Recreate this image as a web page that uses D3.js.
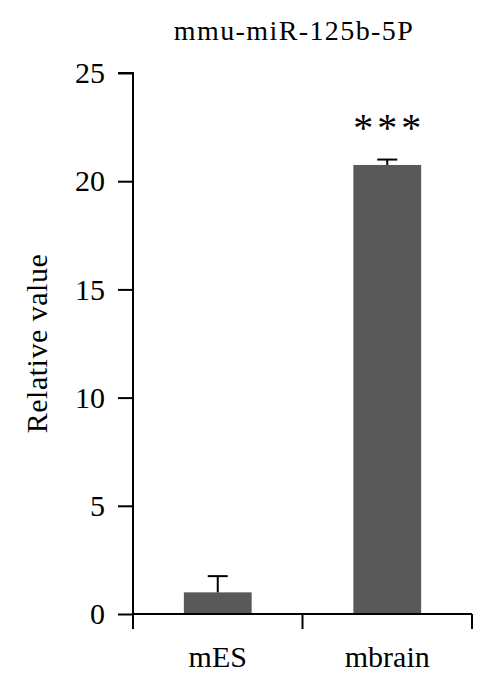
<!DOCTYPE html>
<html><head><meta charset="utf-8">
<script src="https://cdn.jsdelivr.net/npm/d3@7"></script>
<style>body{margin:0;background:#fff}svg{display:block}text{font-family:"Liberation Serif","DejaVu Serif",serif;fill:#000}</style>
</head><body>
<script>
const categories = ["mES", "mbrain"];
const values = [1.0, 20.75];
const errors = [0.75, 0.25];
const significance = ["", "***"];
const yTicks = [0, 5, 10, 15, 20, 25];
const title = "mmu-miR-125b-5P";
const yLabel = "Relative value";

const W = 494, H = 696;
const m = {left: 133, right: 22, top: 73, bottom: 82};
const svg = d3.select("body").append("svg").attr("width", W).attr("height", H);
const x = d3.scaleBand().domain(categories).range([m.left, W - m.right]).padding(0);
const y = d3.scaleLinear().domain([0, 25]).range([H - m.bottom, m.top]);
const bw = x.bandwidth() * 0.4;

const g = svg.append("g");
g.selectAll("rect.bar").data(categories).join("rect")
  .attr("x", d => x(d) + x.bandwidth()/2 - bw/2)
  .attr("y", (d,i) => y(values[i]))
  .attr("width", bw)
  .attr("height", (d,i) => y(0) - y(values[i]))
  .attr("fill", "#595959");

categories.forEach((c,i) => {
  const cx = x(c) + x.bandwidth()/2;
  const top = y(values[i]+errors[i]);
  g.append("line").attr("x1", cx).attr("x2", cx).attr("y1", y(values[i])).attr("y2", top).attr("stroke","#000").attr("stroke-width",2);
  g.append("line").attr("x1", cx-10).attr("x2", cx+10).attr("y1", top).attr("y2", top).attr("stroke","#000").attr("stroke-width",2);
  if (significance[i]) g.append("text").attr("x", cx + 2).attr("y", top - 19).attr("text-anchor","middle")
    .attr("font-size",40).attr("letter-spacing",4).text(significance[i]);
});

const ya = svg.append("g").attr("transform", `translate(${m.left},0)`)
  .call(d3.axisLeft(y).tickValues(yTicks).tickSize(15).tickPadding(13).tickFormat(d3.format("d")));
ya.select(".domain").attr("stroke-width",2).attr("d", `M-15,${y(25)}H0V${y(0)}`);
ya.selectAll(".tick line").attr("stroke-width",2);
ya.selectAll(".tick text").attr("font-size",30).attr("font-family",'"Liberation Serif",serif');

const xa = svg.append("g").attr("transform", `translate(0,${y(0)})`)
  .call(d3.axisBottom(x).tickSize(0).tickPadding(32));
xa.select(".domain").attr("stroke-width",2).attr("d", `M${m.left},0H${W-m.right}`);
xa.selectAll(".tick text").attr("font-size",30).attr("font-family",'"Liberation Serif",serif');
const bounds = [x.range()[0], x(categories[1]), x.range()[1]];
xa.selectAll("line.bt").data(bounds).join("line").attr("class","bt")
  .attr("x1", d=>d).attr("x2", d=>d).attr("y1", 0).attr("y2", 15).attr("stroke","#000").attr("stroke-width",2);

svg.append("text").attr("x", 294).attr("y", 40).attr("text-anchor","middle").attr("font-size",28).attr("letter-spacing",1.4).text(title);
svg.append("text").attr("transform", `translate(47,${(y(0)+y(25))/2}) rotate(-90)`).attr("text-anchor","middle").attr("font-size",30).attr("letter-spacing",0.5).text(yLabel);
</script>
</body></html>
